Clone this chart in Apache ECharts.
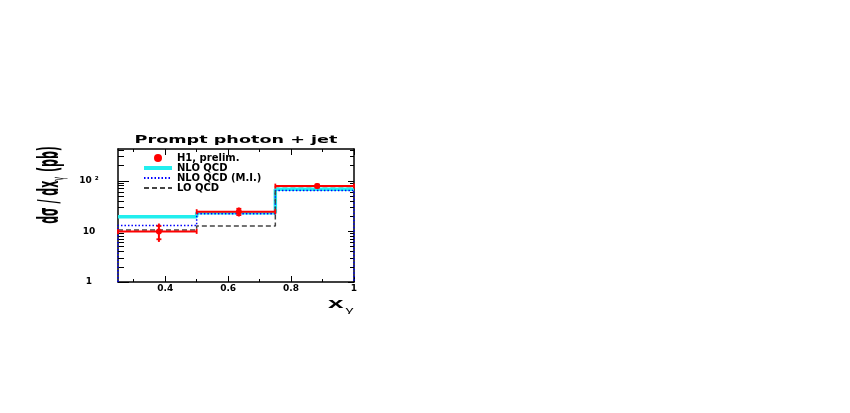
<!DOCTYPE html>
<html><head><meta charset="utf-8">
<script src="https://cdn.jsdelivr.net/npm/echarts@6/dist/echarts.min.js"></script>
<style>html,body{margin:0;padding:0;background:#fff}#c{width:850px;height:413px}</style>
</head><body><div id="c"></div>
<script>
// ---- data ----
const binEdges   = [0.25, 0.5, 0.75, 1.0];
const nloQCD     = [19.4, 23.3, 68.0];
const nloQCDMI   = [13.1, 22.2, 64.6];
const loQCD      = [10.6, 12.8, 77.0];
const h1X        = [0.38, 0.634, 0.883];
const h1Y        = [10.0, 24.5, 78.5];
const h1TotLow   = [6.2, 19.7, 71.0];
const h1TotHigh  = [14.3, 29.7, 88.8];
const h1StatLow  = [7.0, 21.0, 73.5];
const h1StatHigh = [12.8, 28.0, 84.5];
const xMajorTicks  = [0.4, 0.6, 0.8, 1.0];
const xMajorLabels = ['0.4', '0.6', '0.8', '1'];
const xMinorTicks  = [0.3, 0.5, 0.7, 0.9];
const yMajorTicks  = [1, 10, 100];
const yMajorLabels = ['1', '10', '10 \u00b2'];
const yMinorTicks  = [2,3,4,5,6,7,8,9,20,30,40,50,60,70,80,90,200,300,400];

function histPoints(vals, drop) {
  const pts = [];
  if (drop) pts.push([binEdges[0], 1]);
  vals.forEach((v, i) => { pts.push([binEdges[i], v]); pts.push([binEdges[i + 1], v]); });
  if (drop) pts.push([binEdges[binEdges.length - 1], 1]);
  return pts;
}
const h1Data = h1X.map((x, i) => [x, h1Y[i], binEdges[i], binEdges[i + 1], h1TotLow[i], h1TotHigh[i], h1StatLow[i], h1StatHigh[i]]);

function lookup(vals, labels, v) {
  for (let i = 0; i < vals.length; i++) if (Math.abs(vals[i] - v) < 1e-6 * Math.max(1, Math.abs(v))) return labels[i];
  return '';
}
const labFont = { fontFamily: 'DejaVu Sans', fontWeight: 'bold', fontSize: 9, color: '#000' };
const X0 = 0.25, X1 = 1.0, Y0 = 1, Y1 = 425;
function xAx(pos, ticks, len, labels, line) {
  return {
    type: 'value', min: X0, max: X1, position: pos, gridIndex: 0,
    splitLine: { show: false },
    axisLine: { show: line, lineStyle: { color: '#000', width: 1.5 } },
    axisTick: { show: true, inside: true, length: len, customValues: ticks, lineStyle: { color: '#000', width: 1 } },
    axisLabel: labels ? Object.assign({ show: true, margin: 2, customValues: ticks,
      formatter: v => lookup(xMajorTicks, xMajorLabels, v) }, labFont) : { show: false }
  };
}
function yAx(pos, ticks, len, labels, line) {
  return {
    type: 'log', logBase: 10, min: Y0, max: Y1, position: pos, gridIndex: 0,
    splitLine: { show: false },
    axisLine: { show: line, lineStyle: { color: '#000', width: 1.5 } },
    axisTick: { show: true, inside: true, length: len, customValues: ticks, lineStyle: { color: '#000', width: 1 } },
    axisLabel: labels ? Object.assign({ show: true, margin: 29, align: 'center', customValues: ticks,
      formatter: v => lookup(yMajorTicks, yMajorLabels, v) }, labFont) : { show: false }
  };
}
const hideSym = { opacity: 0, borderWidth: 0 };

const chart = echarts.init(document.getElementById('c'), null, { renderer: 'canvas' });
chart.setOption({
  animation: false,
  backgroundColor: '#fff',
  grid: { left: 118, right: 496, top: 149, bottom: 131, containLabel: false },
  xAxis: [
    xAx('bottom', xMajorTicks, 6, true, true),
    xAx('bottom', xMinorTicks, 3, false, false),
    xAx('top', xMajorTicks, 6, false, true),
    xAx('top', xMinorTicks, 3, false, false)
  ],
  yAxis: [
    yAx('left', yMajorTicks, 11, true, true),
    yAx('left', yMinorTicks, 6, false, false),
    yAx('right', yMajorTicks, 6, false, true),
    yAx('right', yMinorTicks, 4, false, false)
  ],
  legend: {
    orient: 'vertical', left: 142, top: 153, itemWidth: 28, itemHeight: 8, itemGap: 0, padding: 0,
    selectedMode: false,
    textStyle: { fontFamily: 'DejaVu Sans', fontWeight: 'bold', fontSize: 10, color: '#000', lineHeight: 8 },
    data: [
      { name: 'H1, prelim.', icon: 'circle', itemStyle: { color: '#ff0000' } },
      { name: 'NLO QCD', itemStyle: hideSym, lineStyle: { width: 4 } },
      { name: 'NLO QCD (M.I.)', itemStyle: hideSym },
      { name: 'LO QCD', itemStyle: hideSym }
    ]
  },
  series: [
    { name: 'NLO QCD', type: 'line', data: histPoints(nloQCD, false), symbol: 'none', z: 2,
      lineStyle: { color: '#22eeee', width: 3.5 }, itemStyle: { color: '#22eeee' } },
    { name: 'NLO QCD (M.I.)', type: 'line', data: histPoints(nloQCDMI, true), symbol: 'none', z: 3,
      lineStyle: { color: '#0000ff', width: 1.5, type: [1.5, 2] }, itemStyle: { color: '#0000ff' } },
    { name: 'LO QCD', type: 'line', data: histPoints(loQCD, false), symbol: 'none', z: 3,
      lineStyle: { color: '#444', width: 1.5, type: [5, 3] }, itemStyle: { color: '#444' } },
    { name: 'H1, prelim.', type: 'custom', z: 5, itemStyle: { color: '#ff0000' },
      data: h1Data,
      encode: { x: 0, y: 1 },
      renderItem: function (params, api) {
        const x = api.value(0), y = api.value(1);
        const p = api.coord([x, y]);
        const pl = api.coord([api.value(2), y]);
        const pr = api.coord([api.value(3), y]);
        const tLo = api.coord([x, api.value(4)]), tHi = api.coord([x, api.value(5)]);
        const sLo = api.coord([x, api.value(6)]), sHi = api.coord([x, api.value(7)]);
        const ln = (x1, y1, x2, y2, w) => ({ type: 'line', shape: { x1, y1, x2, y2 }, style: { stroke: '#ff0000', lineWidth: w || 1.8 } });
        return { type: 'group', children: [
          ln(pl[0], pl[1], pr[0], pr[1], 2),
          ln(pl[0], pl[1] - 2.5, pl[0], pl[1] + 2.5),
          ln(pr[0], pr[1] - 2.5, pr[0], pr[1] + 2.5),
          ln(tLo[0], tLo[1], tHi[0], tHi[1], 2),
          ln(sLo[0] - 2.5, sLo[1], sLo[0] + 2.5, sLo[1]),
          ln(sHi[0] - 2.5, sHi[1], sHi[0] + 2.5, sHi[1]),
          { type: 'circle', shape: { cx: p[0], cy: p[1], r: 3 }, style: { fill: '#ff0000' } }
        ] };
      }
    }
  ],
  graphic: [
    { type: 'text', x: 236, y: 140, scaleX: 1.6, z: 10,
      style: { text: 'Prompt photon + jet', font: 'bold 11px "DejaVu Sans"', fill: '#000', align: 'center', verticalAlign: 'middle' } },
    { type: 'text', x: 51, y: 185, rotation: Math.PI / 2, scaleY: 2.6, z: 10,
      style: { text: '{m|d\u03c3 / dx}{s|\u03b3}{m| (pb)}', align: 'center', verticalAlign: 'middle', fill: '#000',
        rich: { m: { fontFamily: 'DejaVu Sans', fontWeight: 'bold', fontSize: 11, fill: '#000' },
                s: { fontFamily: 'DejaVu Sans', fontSize: 6.5, fill: '#000', padding: [7, 1, 0, 0] } } } },
    { type: 'text', x: 328, y: 304, scaleX: 2.0, z: 10,
      style: { text: '{x|x}{g|\u03b3}', align: 'left', verticalAlign: 'middle', fill: '#000',
        rich: { x: { fontFamily: 'Liberation Sans', fontWeight: 'bold', fontSize: 14, fill: '#000' },
                g: { fontFamily: 'Liberation Sans', fontSize: 8, fill: '#000', padding: [12, 0, 0, 1] } } } }
  ]
});
</script></body></html>
